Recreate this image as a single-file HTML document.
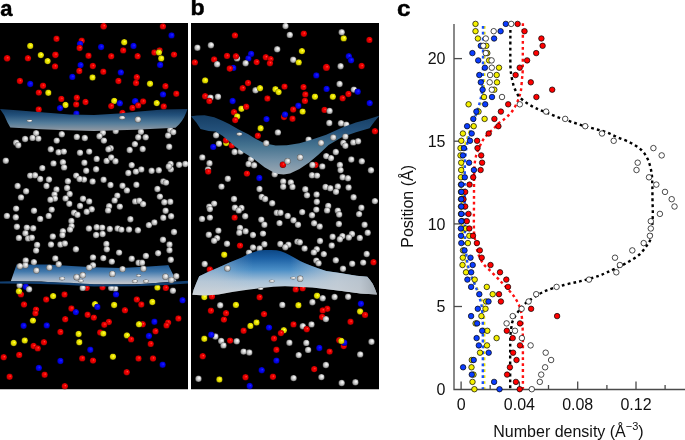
<!DOCTYPE html>
<html><head><meta charset="utf-8"><style>
html,body{margin:0;padding:0;background:#fff;}
body{width:685px;height:440px;overflow:hidden;}
svg{display:block;}
text{font-family:"Liberation Sans",Arial,Helvetica,sans-serif;}
</style></head><body>
<svg width="685" height="440" viewBox="0 0 685 440">
<defs>
<radialGradient id="gr" cx="0.5" cy="0.5" r="0.5" fx="0.62" fy="0.38"><stop offset="0" stop-color="#ff5040"/><stop offset="0.35" stop-color="#f80000"/><stop offset="0.8" stop-color="#d00000"/><stop offset="1" stop-color="#700000"/></radialGradient>
<radialGradient id="gy" cx="0.5" cy="0.5" r="0.5" fx="0.62" fy="0.38"><stop offset="0" stop-color="#ffff80"/><stop offset="0.35" stop-color="#f6f000"/><stop offset="0.8" stop-color="#d2cc00"/><stop offset="1" stop-color="#6a6600"/></radialGradient>
<radialGradient id="gb" cx="0.5" cy="0.5" r="0.5" fx="0.62" fy="0.38"><stop offset="0" stop-color="#2a2aff"/><stop offset="0.35" stop-color="#0a0af8"/><stop offset="0.8" stop-color="#0000d4"/><stop offset="1" stop-color="#000070"/></radialGradient>
<radialGradient id="gw" cx="0.5" cy="0.5" r="0.5" fx="0.65" fy="0.35"><stop offset="0" stop-color="#ffffff"/><stop offset="0.3" stop-color="#e8e8e8"/><stop offset="0.75" stop-color="#b0b0b0"/><stop offset="1" stop-color="#606060"/></radialGradient>
<linearGradient id="sa1" x1="0" y1="108" x2="0" y2="131" gradientUnits="userSpaceOnUse"><stop offset="0" stop-color="#10345a"/><stop offset="0.3" stop-color="#22507a"/><stop offset="0.65" stop-color="#537c9a"/><stop offset="1" stop-color="#959ba3"/></linearGradient>
<linearGradient id="sa2" x1="0" y1="264" x2="0" y2="283" gradientUnits="userSpaceOnUse"><stop offset="0" stop-color="#184f88"/><stop offset="0.4" stop-color="#4279ac"/><stop offset="0.75" stop-color="#90aac6"/><stop offset="1" stop-color="#bcc2ca"/></linearGradient>
<linearGradient id="sb1" x1="0" y1="116" x2="0" y2="175" gradientUnits="userSpaceOnUse"><stop offset="0" stop-color="#163f66"/><stop offset="0.25" stop-color="#24517a"/><stop offset="0.5" stop-color="#44728f"/><stop offset="0.75" stop-color="#7290a6"/><stop offset="1" stop-color="#9eaab4"/></linearGradient>
<linearGradient id="sb2" x1="0" y1="249" x2="0" y2="295" gradientUnits="userSpaceOnUse"><stop offset="0" stop-color="#0a4482"/><stop offset="0.2" stop-color="#1c60a4"/><stop offset="0.45" stop-color="#4a8ec6"/><stop offset="0.7" stop-color="#a8c2d8"/><stop offset="1" stop-color="#d6d9dc"/></linearGradient>
<linearGradient id="sb2h" x1="191" y1="0" x2="379" y2="0" gradientUnits="userSpaceOnUse"><stop offset="0" stop-color="#c4ccd4" stop-opacity="0.55"/><stop offset="0.14" stop-color="#c4ccd4" stop-opacity="0.45"/><stop offset="0.25" stop-color="#c4ccd4" stop-opacity="0.15"/><stop offset="0.33" stop-color="#c4ccd4" stop-opacity="0"/><stop offset="0.53" stop-color="#c4ccd4" stop-opacity="0"/><stop offset="0.63" stop-color="#c4ccd4" stop-opacity="0.35"/><stop offset="0.78" stop-color="#c4ccd4" stop-opacity="0.8"/><stop offset="0.9" stop-color="#bcc4cc" stop-opacity="0.85"/><stop offset="1" stop-color="#9aa2aa" stop-opacity="0.9"/></linearGradient>
<clipPath id="cpa"><rect x="0" y="23" width="188" height="366.5"/></clipPath>
<clipPath id="cpb"><rect x="191" y="23" width="188" height="366.5"/></clipPath>
</defs>
<rect x="0" y="0" width="685" height="440" fill="#fff"/>

<text transform="translate(0.3,16.1) scale(1.0,1)" font-size="22" font-weight="bold" fill="#000" stroke="#000" stroke-width="0.45">a</text>
<text transform="translate(190.4,15.1) scale(1.05,1)" font-size="22" font-weight="bold" fill="#000" stroke="#000" stroke-width="0.45">b</text>
<text transform="translate(397,16.0) scale(1.1,1)" font-size="22" font-weight="bold" fill="#000" stroke="#000" stroke-width="0.45">c</text>
<g clip-path="url(#cpa)">
<rect x="0" y="23" width="188" height="366.5" fill="#000"/>
<circle cx="56.5" cy="38.8" r="3.2" fill="url(#gr)"/>
<circle cx="81.7" cy="40.8" r="3.2" fill="url(#gr)"/>
<circle cx="80" cy="43.9" r="3.2" fill="url(#gb)"/>
<circle cx="79.6" cy="48" r="3.2" fill="url(#gr)"/>
<circle cx="30.2" cy="45.9" r="3.2" fill="url(#gy)"/>
<circle cx="7.1" cy="58.3" r="3.4" fill="url(#gr)"/>
<circle cx="27.9" cy="58.3" r="3.2" fill="url(#gr)"/>
<circle cx="40.8" cy="55.1" r="3.2" fill="url(#gy)"/>
<circle cx="55.4" cy="54.8" r="3.4" fill="url(#gr)"/>
<circle cx="47.6" cy="61.1" r="3.2" fill="url(#gy)"/>
<circle cx="55" cy="66.4" r="3.2" fill="url(#gr)"/>
<circle cx="88.5" cy="55.7" r="3.2" fill="url(#gr)"/>
<circle cx="80.6" cy="65.1" r="3.2" fill="url(#gb)"/>
<circle cx="92.8" cy="66" r="3.2" fill="url(#gr)"/>
<circle cx="79.3" cy="71" r="3.2" fill="url(#gr)"/>
<circle cx="72.3" cy="76.9" r="3.2" fill="url(#gb)"/>
<circle cx="92.5" cy="77.5" r="3.2" fill="url(#gy)"/>
<circle cx="19.9" cy="81" r="3.2" fill="url(#gr)"/>
<circle cx="30.2" cy="84" r="3.2" fill="url(#gb)"/>
<circle cx="103.6" cy="26.3" r="3.4" fill="url(#gr)"/>
<circle cx="162.9" cy="26.4" r="3.2" fill="url(#gr)"/>
<circle cx="171.5" cy="35.4" r="3.2" fill="url(#gb)"/>
<circle cx="124.2" cy="42.2" r="3.2" fill="url(#gy)"/>
<circle cx="101.1" cy="47" r="3.2" fill="url(#gb)"/>
<circle cx="133.5" cy="45.9" r="3.2" fill="url(#gb)"/>
<circle cx="123.2" cy="50.4" r="3.2" fill="url(#gr)"/>
<circle cx="111.2" cy="56.3" r="3.2" fill="url(#gr)"/>
<circle cx="137.6" cy="56.2" r="3.2" fill="url(#gr)"/>
<circle cx="154.4" cy="52.5" r="3.2" fill="url(#gr)"/>
<circle cx="159.6" cy="50.4" r="3.2" fill="url(#gr)"/>
<circle cx="158.9" cy="52.5" r="3.2" fill="url(#gy)"/>
<circle cx="161.2" cy="58.4" r="3.2" fill="url(#gy)"/>
<circle cx="174" cy="54.6" r="3.2" fill="url(#gr)"/>
<circle cx="160.1" cy="64.9" r="3.2" fill="url(#gb)"/>
<circle cx="103.3" cy="71.7" r="3.2" fill="url(#gr)"/>
<circle cx="120.8" cy="72.4" r="3.2" fill="url(#gb)"/>
<circle cx="136.8" cy="77.2" r="3.2" fill="url(#gr)"/>
<circle cx="118.4" cy="81" r="3.2" fill="url(#gr)"/>
<circle cx="136" cy="83" r="3.2" fill="url(#gr)"/>
<circle cx="150" cy="83.8" r="3.2" fill="url(#gy)"/>
<circle cx="43" cy="85.8" r="3.2" fill="url(#gr)"/>
<circle cx="38.8" cy="92.6" r="3.2" fill="url(#gr)"/>
<circle cx="48.3" cy="92.8" r="3.2" fill="url(#gy)"/>
<circle cx="61.3" cy="98.9" r="3.2" fill="url(#gr)"/>
<circle cx="65.5" cy="105" r="3.2" fill="url(#gy)"/>
<circle cx="60" cy="108.1" r="3.2" fill="url(#gb)"/>
<circle cx="76.8" cy="97.8" r="3.2" fill="url(#gr)"/>
<circle cx="76.2" cy="104.4" r="3.2" fill="url(#gr)"/>
<circle cx="85.5" cy="102" r="3.2" fill="url(#gr)"/>
<circle cx="76.4" cy="113.6" r="3.2" fill="url(#gb)"/>
<circle cx="38.7" cy="109.5" r="3.2" fill="url(#gr)"/>
<circle cx="165.4" cy="86.2" r="3.2" fill="url(#gr)"/>
<circle cx="163" cy="94.4" r="3.2" fill="url(#gb)"/>
<circle cx="176.3" cy="93.7" r="3.2" fill="url(#gr)"/>
<circle cx="114.2" cy="100.9" r="3.2" fill="url(#gy)"/>
<circle cx="119.8" cy="103.3" r="3.2" fill="url(#gb)"/>
<circle cx="111.2" cy="106.1" r="3.2" fill="url(#gr)"/>
<circle cx="135.2" cy="101.3" r="3.4" fill="url(#gb)"/>
<circle cx="143.1" cy="101.5" r="3.2" fill="url(#gr)"/>
<circle cx="138.2" cy="105.4" r="3.2" fill="url(#gr)"/>
<circle cx="132.4" cy="107.9" r="3.2" fill="url(#gr)"/>
<circle cx="156.7" cy="103.1" r="3.2" fill="url(#gy)"/>
<circle cx="163.7" cy="106.5" r="3.2" fill="url(#gr)"/>
<circle cx="122.4" cy="113" r="3.2" fill="url(#gr)"/>
<circle cx="36.1" cy="133.2" r="3.2" fill="url(#gw)"/>
<circle cx="25.1" cy="139" r="3.2" fill="url(#gw)"/>
<circle cx="32.5" cy="137.9" r="3.2" fill="url(#gw)"/>
<circle cx="38.4" cy="138.6" r="3.2" fill="url(#gw)"/>
<circle cx="16.2" cy="142.8" r="3.2" fill="url(#gw)"/>
<circle cx="18.3" cy="145.2" r="3.2" fill="url(#gw)"/>
<circle cx="61.8" cy="134.2" r="3.2" fill="url(#gw)"/>
<circle cx="56.7" cy="140.6" r="3.2" fill="url(#gw)"/>
<circle cx="76.8" cy="136.9" r="3.2" fill="url(#gw)"/>
<circle cx="84.8" cy="138" r="3.2" fill="url(#gw)"/>
<circle cx="50.8" cy="149.3" r="3.2" fill="url(#gw)"/>
<circle cx="58.6" cy="152.3" r="3.2" fill="url(#gw)"/>
<circle cx="63.8" cy="151.6" r="3.2" fill="url(#gw)"/>
<circle cx="80" cy="152.7" r="3.2" fill="url(#gw)"/>
<circle cx="89.2" cy="151.6" r="3.2" fill="url(#gw)"/>
<circle cx="5.8" cy="160.7" r="3.2" fill="url(#gw)"/>
<circle cx="53.5" cy="163.4" r="3.2" fill="url(#gw)"/>
<circle cx="62.9" cy="162.3" r="3.2" fill="url(#gw)"/>
<circle cx="64.1" cy="167.4" r="3.2" fill="url(#gw)"/>
<circle cx="84.4" cy="162.7" r="3.2" fill="url(#gw)"/>
<circle cx="42.3" cy="168.1" r="3.2" fill="url(#gw)"/>
<circle cx="86.2" cy="170.8" r="3.2" fill="url(#gw)"/>
<circle cx="30.2" cy="175.6" r="3.2" fill="url(#gw)"/>
<circle cx="35" cy="175.3" r="3.2" fill="url(#gw)"/>
<circle cx="40.2" cy="179" r="3.2" fill="url(#gw)"/>
<circle cx="49" cy="179.5" r="3.2" fill="url(#gw)"/>
<circle cx="76.2" cy="175.6" r="3.2" fill="url(#gw)"/>
<circle cx="84" cy="179.5" r="3.2" fill="url(#gw)"/>
<circle cx="79.6" cy="179" r="3.2" fill="url(#gw)"/>
<circle cx="67.9" cy="181.2" r="3.2" fill="url(#gw)"/>
<circle cx="17.6" cy="186" r="3.2" fill="url(#gw)"/>
<circle cx="46.5" cy="186" r="3.2" fill="url(#gw)"/>
<circle cx="92.6" cy="181.5" r="3.2" fill="url(#gw)"/>
<circle cx="67.1" cy="188" r="3.2" fill="url(#gw)"/>
<circle cx="102.9" cy="132.8" r="3.2" fill="url(#gw)"/>
<circle cx="99.5" cy="136.2" r="3.2" fill="url(#gw)"/>
<circle cx="103.9" cy="140.6" r="3.2" fill="url(#gw)"/>
<circle cx="115.7" cy="131" r="3.2" fill="url(#gw)"/>
<circle cx="140.9" cy="131.8" r="3.2" fill="url(#gw)"/>
<circle cx="138.2" cy="137.2" r="3.2" fill="url(#gw)"/>
<circle cx="145.7" cy="137.3" r="3.2" fill="url(#gw)"/>
<circle cx="168.1" cy="135.5" r="3.2" fill="url(#gw)"/>
<circle cx="170.2" cy="130.1" r="3.2" fill="url(#gw)"/>
<circle cx="173.3" cy="132.1" r="3.2" fill="url(#gw)"/>
<circle cx="134.9" cy="144.1" r="3.2" fill="url(#gw)"/>
<circle cx="110.7" cy="148.3" r="3.2" fill="url(#gw)"/>
<circle cx="108.4" cy="149.3" r="3.2" fill="url(#gw)"/>
<circle cx="129.7" cy="150" r="3.2" fill="url(#gw)"/>
<circle cx="142.7" cy="149" r="3.2" fill="url(#gw)"/>
<circle cx="169.2" cy="146.8" r="3.2" fill="url(#gw)"/>
<circle cx="96.7" cy="158.9" r="3.2" fill="url(#gw)"/>
<circle cx="106.6" cy="160.9" r="3.2" fill="url(#gw)"/>
<circle cx="111.2" cy="157.5" r="3.2" fill="url(#gw)"/>
<circle cx="115.5" cy="161.2" r="3.2" fill="url(#gw)"/>
<circle cx="131.7" cy="165.1" r="3.2" fill="url(#gw)"/>
<circle cx="96.1" cy="169.2" r="3.2" fill="url(#gw)"/>
<circle cx="128.3" cy="173" r="3.2" fill="url(#gw)"/>
<circle cx="135.9" cy="171.6" r="3.2" fill="url(#gw)"/>
<circle cx="141.3" cy="169.4" r="3.2" fill="url(#gw)"/>
<circle cx="151.6" cy="170.8" r="3.2" fill="url(#gw)"/>
<circle cx="158.8" cy="170.3" r="3.2" fill="url(#gw)"/>
<circle cx="170.6" cy="164" r="3.2" fill="url(#gw)"/>
<circle cx="170.8" cy="169.2" r="3.2" fill="url(#gw)"/>
<circle cx="168.8" cy="166.4" r="3.2" fill="url(#gw)"/>
<circle cx="179.1" cy="164.8" r="3.2" fill="url(#gw)"/>
<circle cx="185.3" cy="164" r="3.2" fill="url(#gw)"/>
<circle cx="103.6" cy="179.7" r="3.2" fill="url(#gw)"/>
<circle cx="110.5" cy="185" r="3.2" fill="url(#gw)"/>
<circle cx="122.5" cy="185.8" r="3.2" fill="url(#gw)"/>
<circle cx="136.4" cy="184.8" r="3.2" fill="url(#gw)"/>
<circle cx="163.3" cy="181.5" r="3.2" fill="url(#gw)"/>
<circle cx="166" cy="182.6" r="3.2" fill="url(#gw)"/>
<circle cx="26.1" cy="191.2" r="3.2" fill="url(#gw)"/>
<circle cx="21" cy="197.4" r="3.2" fill="url(#gw)"/>
<circle cx="56.5" cy="189.4" r="3.2" fill="url(#gw)"/>
<circle cx="54.5" cy="194.5" r="3.2" fill="url(#gw)"/>
<circle cx="54.9" cy="198.6" r="3.2" fill="url(#gw)"/>
<circle cx="50.4" cy="199.7" r="3.2" fill="url(#gw)"/>
<circle cx="69.7" cy="194" r="3.2" fill="url(#gw)"/>
<circle cx="65.6" cy="198.4" r="3.2" fill="url(#gw)"/>
<circle cx="69.3" cy="203.8" r="3.2" fill="url(#gw)"/>
<circle cx="83" cy="198.8" r="3.2" fill="url(#gw)"/>
<circle cx="89.2" cy="201.4" r="3.2" fill="url(#gw)"/>
<circle cx="80" cy="205.9" r="3.2" fill="url(#gw)"/>
<circle cx="91.7" cy="209.3" r="3.2" fill="url(#gw)"/>
<circle cx="86.7" cy="211.8" r="3.2" fill="url(#gw)"/>
<circle cx="16.1" cy="208.6" r="3.2" fill="url(#gw)"/>
<circle cx="34" cy="210.7" r="3.2" fill="url(#gw)"/>
<circle cx="51.7" cy="209.6" r="3.2" fill="url(#gw)"/>
<circle cx="6.9" cy="215.9" r="3.2" fill="url(#gw)"/>
<circle cx="15.8" cy="217.3" r="3.2" fill="url(#gw)"/>
<circle cx="40.2" cy="218.9" r="3.2" fill="url(#gw)"/>
<circle cx="48.7" cy="215.9" r="3.2" fill="url(#gw)"/>
<circle cx="74.1" cy="212.8" r="3.2" fill="url(#gw)"/>
<circle cx="77.5" cy="214.8" r="3.2" fill="url(#gw)"/>
<circle cx="71.4" cy="221" r="3.2" fill="url(#gw)"/>
<circle cx="71.6" cy="226.1" r="3.2" fill="url(#gw)"/>
<circle cx="70" cy="229.6" r="3.2" fill="url(#gw)"/>
<circle cx="16.9" cy="226.8" r="3.2" fill="url(#gw)"/>
<circle cx="26.8" cy="227.6" r="3.2" fill="url(#gw)"/>
<circle cx="33.2" cy="228.3" r="3.2" fill="url(#gw)"/>
<circle cx="25.4" cy="233.3" r="3.2" fill="url(#gw)"/>
<circle cx="62.9" cy="231.3" r="3.2" fill="url(#gw)"/>
<circle cx="62.4" cy="235.1" r="3.2" fill="url(#gw)"/>
<circle cx="88.9" cy="228.5" r="3.2" fill="url(#gw)"/>
<circle cx="18.9" cy="237.9" r="3.2" fill="url(#gw)"/>
<circle cx="28.1" cy="238.4" r="3.2" fill="url(#gw)"/>
<circle cx="31.8" cy="237.7" r="3.2" fill="url(#gw)"/>
<circle cx="52.8" cy="236.5" r="3.2" fill="url(#gw)"/>
<circle cx="37.1" cy="244.9" r="3.2" fill="url(#gw)"/>
<circle cx="51" cy="244.5" r="3.2" fill="url(#gw)"/>
<circle cx="60.4" cy="244.5" r="3.2" fill="url(#gw)"/>
<circle cx="64.8" cy="243.5" r="3.2" fill="url(#gw)"/>
<circle cx="126.9" cy="190.4" r="3.2" fill="url(#gw)"/>
<circle cx="117.3" cy="195.6" r="3.2" fill="url(#gw)"/>
<circle cx="114.6" cy="200.4" r="3.2" fill="url(#gw)"/>
<circle cx="109.1" cy="206.3" r="3.2" fill="url(#gw)"/>
<circle cx="108.1" cy="210.4" r="3.2" fill="url(#gw)"/>
<circle cx="119.8" cy="206.6" r="3.2" fill="url(#gw)"/>
<circle cx="135.2" cy="201.4" r="3.2" fill="url(#gw)"/>
<circle cx="139.3" cy="200.8" r="3.2" fill="url(#gw)"/>
<circle cx="143.1" cy="204.1" r="3.2" fill="url(#gw)"/>
<circle cx="157.4" cy="189" r="3.2" fill="url(#gw)"/>
<circle cx="159.9" cy="196.6" r="3.2" fill="url(#gw)"/>
<circle cx="164.3" cy="202.2" r="3.2" fill="url(#gw)"/>
<circle cx="170.3" cy="201.8" r="3.2" fill="url(#gw)"/>
<circle cx="165.6" cy="210.7" r="3.2" fill="url(#gw)"/>
<circle cx="163.3" cy="217.8" r="3.2" fill="url(#gw)"/>
<circle cx="171.1" cy="216.2" r="3.2" fill="url(#gw)"/>
<circle cx="130.4" cy="219.2" r="3.2" fill="url(#gw)"/>
<circle cx="148.9" cy="225.1" r="3.2" fill="url(#gw)"/>
<circle cx="154.4" cy="222.4" r="3.2" fill="url(#gw)"/>
<circle cx="96.7" cy="227.2" r="3.2" fill="url(#gw)"/>
<circle cx="102.2" cy="227.6" r="3.2" fill="url(#gw)"/>
<circle cx="109.8" cy="229" r="3.2" fill="url(#gw)"/>
<circle cx="117.6" cy="228.5" r="3.2" fill="url(#gw)"/>
<circle cx="121.4" cy="229.6" r="3.2" fill="url(#gw)"/>
<circle cx="129" cy="229.5" r="3.2" fill="url(#gw)"/>
<circle cx="137.9" cy="230.2" r="3.2" fill="url(#gw)"/>
<circle cx="96.1" cy="235" r="3.2" fill="url(#gw)"/>
<circle cx="102.6" cy="234" r="3.2" fill="url(#gw)"/>
<circle cx="174" cy="232" r="3.2" fill="url(#gw)"/>
<circle cx="106.4" cy="244" r="3.2" fill="url(#gw)"/>
<circle cx="163" cy="239.8" r="3.2" fill="url(#gw)"/>
<circle cx="169.5" cy="244.5" r="3.2" fill="url(#gw)"/>
<circle cx="36.1" cy="250.6" r="3.2" fill="url(#gw)"/>
<circle cx="75.9" cy="249.2" r="3.2" fill="url(#gw)"/>
<circle cx="93" cy="257.4" r="3.2" fill="url(#gw)"/>
<circle cx="106.8" cy="249.2" r="3.2" fill="url(#gw)"/>
<circle cx="119.1" cy="252.6" r="3.2" fill="url(#gw)"/>
<circle cx="145.9" cy="255.9" r="3.2" fill="url(#gw)"/>
<circle cx="158.1" cy="253.2" r="3.2" fill="url(#gw)"/>
<circle cx="169.5" cy="250.2" r="3.2" fill="url(#gw)"/>
<circle cx="19.6" cy="285.2" r="3.2" fill="url(#gw)"/>
<circle cx="172.9" cy="290.7" r="3.2" fill="url(#gw)"/>
<circle cx="115.3" cy="288.6" r="3.2" fill="url(#gw)"/>
<circle cx="111.2" cy="287.9" r="3.2" fill="url(#gw)"/>
<circle cx="25.8" cy="286.8" r="3.2" fill="url(#gb)"/>
<circle cx="29.1" cy="289.3" r="3.2" fill="url(#gw)"/>
<circle cx="20.9" cy="294.4" r="3.2" fill="url(#gr)"/>
<circle cx="18.9" cy="291.3" r="3.2" fill="url(#gy)"/>
<circle cx="46.2" cy="299.5" r="3.2" fill="url(#gr)"/>
<circle cx="53.1" cy="296.1" r="3.2" fill="url(#gy)"/>
<circle cx="64.5" cy="294.5" r="3.2" fill="url(#gr)"/>
<circle cx="86.7" cy="287.9" r="3.2" fill="url(#gr)"/>
<circle cx="82.7" cy="287.9" r="3.2" fill="url(#gw)"/>
<circle cx="24" cy="304.5" r="3.2" fill="url(#gr)"/>
<circle cx="102.5" cy="287.2" r="3.2" fill="url(#gr)"/>
<circle cx="116" cy="294.4" r="3.2" fill="url(#gb)"/>
<circle cx="157.4" cy="287.6" r="3.2" fill="url(#gy)"/>
<circle cx="165.8" cy="287.9" r="3.2" fill="url(#gr)"/>
<circle cx="136.8" cy="299.5" r="3.2" fill="url(#gr)"/>
<circle cx="152.3" cy="302" r="3.2" fill="url(#gy)"/>
<circle cx="182.5" cy="300.3" r="3.2" fill="url(#gb)"/>
<circle cx="141.3" cy="304.5" r="3.2" fill="url(#gr)"/>
<circle cx="114.1" cy="305" r="3.2" fill="url(#gy)"/>
<circle cx="95" cy="304.2" r="3.2" fill="url(#gy)"/>
<circle cx="36" cy="309.6" r="3.2" fill="url(#gr)"/>
<circle cx="35.4" cy="313.3" r="3.2" fill="url(#gr)"/>
<circle cx="71.4" cy="308.5" r="3.2" fill="url(#gr)"/>
<circle cx="75.8" cy="312.1" r="3.2" fill="url(#gb)"/>
<circle cx="87.6" cy="314.8" r="3.2" fill="url(#gr)"/>
<circle cx="93.8" cy="317.6" r="3.2" fill="url(#gr)"/>
<circle cx="65.2" cy="319.2" r="3.2" fill="url(#gr)"/>
<circle cx="32.9" cy="320.6" r="3.2" fill="url(#gy)"/>
<circle cx="23.6" cy="325.8" r="3.2" fill="url(#gb)"/>
<circle cx="46.7" cy="325.4" r="3.2" fill="url(#gb)"/>
<circle cx="60.4" cy="332" r="3.2" fill="url(#gr)"/>
<circle cx="78.6" cy="334" r="3.2" fill="url(#gy)"/>
<circle cx="79.3" cy="342.3" r="3.2" fill="url(#gy)"/>
<circle cx="24.7" cy="340.5" r="3.2" fill="url(#gy)"/>
<circle cx="13.7" cy="343" r="3.2" fill="url(#gy)"/>
<circle cx="43.9" cy="342.3" r="3.2" fill="url(#gr)"/>
<circle cx="33.6" cy="346" r="3.2" fill="url(#gr)"/>
<circle cx="37.7" cy="348.4" r="3.2" fill="url(#gr)"/>
<circle cx="90.3" cy="349.7" r="3.2" fill="url(#gb)"/>
<circle cx="19.2" cy="354.9" r="3.2" fill="url(#gr)"/>
<circle cx="3.7" cy="357.3" r="3.2" fill="url(#gr)"/>
<circle cx="82.2" cy="358.4" r="3.2" fill="url(#gr)"/>
<circle cx="60.4" cy="361" r="3.2" fill="url(#gb)"/>
<circle cx="97.4" cy="306.9" r="3.2" fill="url(#gb)"/>
<circle cx="124.9" cy="310.3" r="3.2" fill="url(#gr)"/>
<circle cx="108.8" cy="322" r="3.2" fill="url(#gr)"/>
<circle cx="104.3" cy="324.7" r="3.2" fill="url(#gr)"/>
<circle cx="142.7" cy="324.3" r="3.2" fill="url(#gr)"/>
<circle cx="139" cy="324.3" r="3.2" fill="url(#gy)"/>
<circle cx="154.4" cy="321.7" r="3.2" fill="url(#gb)"/>
<circle cx="168.1" cy="322.6" r="3.2" fill="url(#gr)"/>
<circle cx="166.5" cy="325.4" r="3.2" fill="url(#gr)"/>
<circle cx="178.4" cy="318.5" r="3.2" fill="url(#gr)"/>
<circle cx="100.2" cy="332.5" r="3.2" fill="url(#gr)"/>
<circle cx="103.3" cy="333.6" r="3.2" fill="url(#gy)"/>
<circle cx="126.9" cy="335.4" r="3.2" fill="url(#gy)"/>
<circle cx="131.1" cy="339.4" r="3.2" fill="url(#gr)"/>
<circle cx="148.9" cy="336" r="3.2" fill="url(#gb)"/>
<circle cx="155.5" cy="331.3" r="3.2" fill="url(#gr)"/>
<circle cx="150.7" cy="343.9" r="3.2" fill="url(#gr)"/>
<circle cx="112.9" cy="356.7" r="3.2" fill="url(#gy)"/>
<circle cx="138.5" cy="358.5" r="3.2" fill="url(#gr)"/>
<circle cx="153" cy="358.5" r="3.2" fill="url(#gr)"/>
<circle cx="93" cy="360.6" r="3.2" fill="url(#gr)"/>
<circle cx="38.8" cy="367.9" r="3.2" fill="url(#gb)"/>
<circle cx="44.6" cy="374.7" r="3.2" fill="url(#gr)"/>
<circle cx="9.6" cy="376.8" r="3.2" fill="url(#gr)"/>
<circle cx="64.8" cy="386.2" r="3.2" fill="url(#gr)"/>
<circle cx="162.6" cy="364.7" r="3.2" fill="url(#gb)"/>
<circle cx="126.7" cy="372.2" r="3.2" fill="url(#gr)"/>
<path d="M0,109 L20,110.6 L41,112.3 L70,114.4 L94,115 L118.7,113.4 L139.3,111.4 L162.6,109.6 L187.5,108.9 L186,113 L184,117.5 L181.8,121 L179,124.6 L175.5,127.7 L155,128.8 L135.2,129.7 L94,131 L60,130 L41.2,129.2 L10.3,127.6 L7.5,122.5 L4.1,115 L0,109 Z" fill="url(#sa1)"/>
<path d="M16.6,264.4 L48,264.5 L71.4,266 L94,267.3 L121.4,268 L148.9,266.6 L166.7,265.3 L168.3,264.9 L176.5,281.2 L150,283.5 L135.2,284.2 L94,284.6 L60,283 L41.2,281.5 L10.8,281.2 Z" fill="url(#sa2)"/>
<path d="M0,281.4 L11,281.3 L41.2,281.7 L70,282.7 L94,284.3 L135,284.4 L176.5,281.4 L188,280.8 L188,283.4 L160,285.3 L135,286.3 L94,286.4 L60,284.6 L30,283.8 L0,283.6 Z" fill="#123f70"/>
<ellipse cx="29.5" cy="120.8" rx="3" ry="1.3" fill="url(#gw)"/>
<ellipse cx="122.1" cy="117.7" rx="3.2" ry="2" fill="url(#gw)"/>
<ellipse cx="62" cy="278.6" rx="3" ry="1.8" fill="url(#gw)"/>
<ellipse cx="80.7" cy="280.8" rx="3" ry="1.6" fill="url(#gw)"/>
<ellipse cx="134.8" cy="281.3" rx="3" ry="1.8" fill="url(#gw)"/>
<ellipse cx="145.9" cy="281.3" rx="3" ry="1.8" fill="url(#gw)"/>
<ellipse cx="138.6" cy="275.6" rx="2.6" ry="1.3" fill="url(#gw)"/>
<circle cx="137.9" cy="119.5" r="3.2" fill="url(#gw)"/>
<circle cx="55.3" cy="258.4" r="3.2" fill="url(#gw)"/>
<circle cx="103.3" cy="258.1" r="3.2" fill="url(#gw)"/>
<circle cx="111.8" cy="261.6" r="3.2" fill="url(#gw)"/>
<circle cx="131.7" cy="258.7" r="3.2" fill="url(#gw)"/>
<circle cx="170.8" cy="259.8" r="3.2" fill="url(#gw)"/>
<circle cx="138.6" cy="262.8" r="3.2" fill="url(#gw)"/>
<circle cx="142" cy="262.8" r="3.2" fill="url(#gw)"/>
<circle cx="25.7" cy="260.5" r="3.2" fill="url(#gw)"/>
<circle cx="33.9" cy="262.1" r="3.2" fill="url(#gw)"/>
<circle cx="58.7" cy="264.3" r="3.2" fill="url(#gw)"/>
<circle cx="25.4" cy="265.3" r="3.2" fill="url(#gw)"/>
<circle cx="19.9" cy="266.2" r="3.2" fill="url(#gw)"/>
<circle cx="49.4" cy="267.6" r="3.2" fill="url(#gw)"/>
<circle cx="36.4" cy="270.5" r="3.2" fill="url(#gw)"/>
<circle cx="93" cy="265.3" r="3.2" fill="url(#gw)"/>
<circle cx="89.2" cy="267.6" r="3.2" fill="url(#gw)"/>
<circle cx="76.6" cy="277.2" r="3.2" fill="url(#gw)"/>
<circle cx="82.7" cy="275.3" r="3.2" fill="url(#gw)"/>
<circle cx="122.5" cy="269.1" r="3.2" fill="url(#gw)"/>
<circle cx="143.4" cy="268.7" r="3.2" fill="url(#gw)"/>
<circle cx="112.3" cy="273.9" r="3.2" fill="url(#gw)"/>
<circle cx="165.4" cy="276.7" r="3.2" fill="url(#gw)"/>
<circle cx="176.3" cy="276.2" r="3.2" fill="url(#gw)"/>
<circle cx="171.3" cy="280.1" r="3.2" fill="url(#gw)"/>
</g>
<g clip-path="url(#cpb)">
<rect x="191" y="23" width="188" height="366.5" fill="#000"/>
<circle cx="234.9" cy="35.4" r="3.2" fill="url(#gr)"/>
<circle cx="197.4" cy="47.7" r="3.2" fill="url(#gw)"/>
<circle cx="210.9" cy="45.2" r="3.2" fill="url(#gw)"/>
<circle cx="277.2" cy="49.3" r="3.2" fill="url(#gw)"/>
<circle cx="285.5" cy="26" r="3.2" fill="url(#gw)"/>
<circle cx="227" cy="55.9" r="3.2" fill="url(#gr)"/>
<circle cx="237" cy="58.4" r="3.2" fill="url(#gw)"/>
<circle cx="235.9" cy="56.3" r="3.2" fill="url(#gr)"/>
<circle cx="251.1" cy="53.9" r="3.2" fill="url(#gb)"/>
<circle cx="248.4" cy="58.4" r="3.2" fill="url(#gb)"/>
<circle cx="245.6" cy="63.2" r="3.2" fill="url(#gw)"/>
<circle cx="214.1" cy="59.4" r="3.2" fill="url(#gr)"/>
<circle cx="217.1" cy="64.2" r="3.2" fill="url(#gw)"/>
<circle cx="194.8" cy="62.4" r="3.2" fill="url(#gr)"/>
<circle cx="256.6" cy="62.1" r="3.2" fill="url(#gr)"/>
<circle cx="265.8" cy="57.3" r="3.2" fill="url(#gr)"/>
<circle cx="270.6" cy="59.1" r="3.2" fill="url(#gr)"/>
<circle cx="269.9" cy="63.2" r="3.2" fill="url(#gr)"/>
<circle cx="233.3" cy="67.9" r="3.2" fill="url(#gb)"/>
<circle cx="229.8" cy="68.6" r="3.3" fill="url(#gr)"/>
<circle cx="205.1" cy="80.4" r="3.2" fill="url(#gy)"/>
<circle cx="248" cy="83" r="3.2" fill="url(#gr)"/>
<circle cx="289.8" cy="34.9" r="3.2" fill="url(#gw)"/>
<circle cx="303.8" cy="33.7" r="3.2" fill="url(#gr)"/>
<circle cx="341.7" cy="32.3" r="3.2" fill="url(#gw)"/>
<circle cx="343.7" cy="38.4" r="3.2" fill="url(#gy)"/>
<circle cx="369.4" cy="39.9" r="3.2" fill="url(#gr)"/>
<circle cx="301.9" cy="51.1" r="3.2" fill="url(#gy)"/>
<circle cx="293.2" cy="59.8" r="3.2" fill="url(#gw)"/>
<circle cx="298.7" cy="62.4" r="3.2" fill="url(#gy)"/>
<circle cx="348.8" cy="56.3" r="3.2" fill="url(#gb)"/>
<circle cx="351.1" cy="60.3" r="3.2" fill="url(#gb)"/>
<circle cx="326.4" cy="67.4" r="3.6" fill="url(#gr)"/>
<circle cx="340.6" cy="66.2" r="3.2" fill="url(#gw)"/>
<circle cx="361.6" cy="66" r="3.2" fill="url(#gr)"/>
<circle cx="316.3" cy="75.4" r="3.2" fill="url(#gb)"/>
<circle cx="339.6" cy="84" r="3.2" fill="url(#gw)"/>
<circle cx="242.7" cy="88.2" r="3.2" fill="url(#gr)"/>
<circle cx="255.5" cy="90.3" r="3.2" fill="url(#gw)"/>
<circle cx="260" cy="88.2" r="3.2" fill="url(#gy)"/>
<circle cx="275.4" cy="89.3" r="3.2" fill="url(#gy)"/>
<circle cx="278.6" cy="92.1" r="3.2" fill="url(#gy)"/>
<circle cx="284.5" cy="86.6" r="3.2" fill="url(#gr)"/>
<circle cx="205.1" cy="96.2" r="3.2" fill="url(#gr)"/>
<circle cx="210.5" cy="97.6" r="3.2" fill="url(#gw)"/>
<circle cx="209.3" cy="101" r="3.2" fill="url(#gr)"/>
<circle cx="218" cy="96.7" r="3.2" fill="url(#gw)"/>
<circle cx="232.6" cy="101" r="3.2" fill="url(#gb)"/>
<circle cx="267.4" cy="98.5" r="3.2" fill="url(#gr)"/>
<circle cx="241.4" cy="108.8" r="3.2" fill="url(#gy)"/>
<circle cx="246.2" cy="106.8" r="3.2" fill="url(#gr)"/>
<circle cx="234" cy="112.2" r="3.2" fill="url(#gr)"/>
<circle cx="237.2" cy="116.4" r="3.2" fill="url(#gy)"/>
<circle cx="235.2" cy="120.1" r="3.2" fill="url(#gr)"/>
<circle cx="266.5" cy="119.1" r="3.2" fill="url(#gb)"/>
<circle cx="284" cy="117" r="3.2" fill="url(#gr)"/>
<circle cx="285" cy="114.5" r="3.2" fill="url(#gb)"/>
<circle cx="260.6" cy="128.3" r="3.2" fill="url(#gy)"/>
<circle cx="277.9" cy="132.4" r="3.2" fill="url(#gw)"/>
<circle cx="257.8" cy="135.7" r="3.2" fill="url(#gr)"/>
<circle cx="216.1" cy="135.2" r="3.2" fill="url(#gw)"/>
<circle cx="303.5" cy="87.1" r="3.2" fill="url(#gr)"/>
<circle cx="305.3" cy="94.4" r="3.2" fill="url(#gr)"/>
<circle cx="304.9" cy="100.9" r="3.2" fill="url(#gr)"/>
<circle cx="314.9" cy="96.7" r="3.2" fill="url(#gy)"/>
<circle cx="326.6" cy="88.9" r="3.2" fill="url(#gb)"/>
<circle cx="332.8" cy="96.7" r="3.2" fill="url(#gy)"/>
<circle cx="353.9" cy="89.6" r="3.2" fill="url(#gw)"/>
<circle cx="357.7" cy="91.7" r="3.2" fill="url(#gb)"/>
<circle cx="348.4" cy="94" r="3.2" fill="url(#gr)"/>
<circle cx="342.6" cy="98.3" r="3.2" fill="url(#gr)"/>
<circle cx="369.7" cy="103.1" r="3.2" fill="url(#gb)"/>
<circle cx="298.3" cy="105.8" r="3.2" fill="url(#gb)"/>
<circle cx="293.2" cy="109.5" r="3.2" fill="url(#gr)"/>
<circle cx="302.6" cy="111.6" r="3.2" fill="url(#gy)"/>
<circle cx="292.5" cy="118.7" r="3.2" fill="url(#gr)"/>
<circle cx="324.5" cy="109.9" r="3.2" fill="url(#gr)"/>
<circle cx="329.6" cy="110.9" r="3.2" fill="url(#gw)"/>
<circle cx="329.3" cy="123" r="3.2" fill="url(#gw)"/>
<circle cx="341" cy="123.2" r="3.2" fill="url(#gw)"/>
<circle cx="308.6" cy="139.6" r="3.2" fill="url(#gw)"/>
<circle cx="346.3" cy="124.6" r="3.2" fill="url(#gw)"/>
<circle cx="374.9" cy="131.2" r="3.2" fill="url(#gr)"/>
<circle cx="343.3" cy="143" r="3.2" fill="url(#gw)"/>
<circle cx="345.4" cy="145.8" r="3.2" fill="url(#gw)"/>
<circle cx="353.3" cy="142.4" r="3.2" fill="url(#gw)"/>
<circle cx="358.1" cy="141.3" r="3.2" fill="url(#gw)"/>
<circle cx="335.8" cy="152" r="3.2" fill="url(#gw)"/>
<circle cx="326.2" cy="156.1" r="3.2" fill="url(#gw)"/>
<circle cx="331" cy="158.1" r="3.2" fill="url(#gw)"/>
<circle cx="351.3" cy="159.5" r="3.2" fill="url(#gw)"/>
<circle cx="361.8" cy="161.3" r="3.2" fill="url(#gw)"/>
<circle cx="315.5" cy="165" r="3.2" fill="url(#gr)"/>
<circle cx="312.4" cy="165" r="3.2" fill="url(#gw)"/>
<circle cx="322.3" cy="166.4" r="3.2" fill="url(#gw)"/>
<circle cx="339.9" cy="165" r="3.2" fill="url(#gw)"/>
<circle cx="340.6" cy="170.1" r="3.2" fill="url(#gw)"/>
<circle cx="371" cy="170.2" r="3.2" fill="url(#gw)"/>
<circle cx="312" cy="175.3" r="3.2" fill="url(#gw)"/>
<circle cx="317" cy="175.6" r="3.2" fill="url(#gw)"/>
<circle cx="342.6" cy="177.3" r="3.2" fill="url(#gw)"/>
<circle cx="347.9" cy="178.3" r="3.2" fill="url(#gw)"/>
<circle cx="290.8" cy="182.4" r="3.2" fill="url(#gw)"/>
<circle cx="292.5" cy="186.9" r="3.2" fill="url(#gw)"/>
<circle cx="325.5" cy="187" r="3.2" fill="url(#gw)"/>
<circle cx="330.3" cy="188.3" r="3.2" fill="url(#gw)"/>
<circle cx="337.8" cy="186.5" r="3.2" fill="url(#gw)"/>
<circle cx="348.6" cy="187.5" r="3.2" fill="url(#gw)"/>
<circle cx="305.3" cy="189.3" r="3.2" fill="url(#gw)"/>
<circle cx="226.2" cy="143" r="3.2" fill="url(#gy)"/>
<circle cx="226" cy="140.3" r="3.2" fill="url(#gr)"/>
<circle cx="218.9" cy="143.7" r="3.2" fill="url(#gw)"/>
<circle cx="213.2" cy="146.9" r="3.2" fill="url(#gb)"/>
<circle cx="231.8" cy="145.4" r="3.2" fill="url(#gr)"/>
<circle cx="234.6" cy="152" r="3.2" fill="url(#gw)"/>
<circle cx="240.7" cy="151.5" r="3.2" fill="url(#gw)"/>
<circle cx="202.3" cy="157.4" r="3.2" fill="url(#gw)"/>
<circle cx="209.5" cy="163.2" r="3.2" fill="url(#gw)"/>
<circle cx="251" cy="159.2" r="3.2" fill="url(#gw)"/>
<circle cx="248.6" cy="164" r="3.2" fill="url(#gw)"/>
<circle cx="254.1" cy="165.3" r="3.2" fill="url(#gw)"/>
<circle cx="208" cy="169.5" r="3.2" fill="url(#gw)"/>
<circle cx="208.2" cy="171.6" r="3.2" fill="url(#gr)"/>
<circle cx="246.9" cy="173.6" r="3.2" fill="url(#gr)"/>
<circle cx="259.3" cy="178" r="3.2" fill="url(#gb)"/>
<circle cx="227.8" cy="178.7" r="3.2" fill="url(#gw)"/>
<circle cx="274.7" cy="174.2" r="3.2" fill="url(#gw)"/>
<circle cx="221.5" cy="186.6" r="3.2" fill="url(#gw)"/>
<circle cx="259.5" cy="189" r="3.2" fill="url(#gw)"/>
<circle cx="283.2" cy="181.5" r="3.2" fill="url(#gw)"/>
<circle cx="283.2" cy="186.7" r="3.2" fill="url(#gw)"/>
<circle cx="234" cy="199" r="3.2" fill="url(#gw)"/>
<circle cx="261.7" cy="197" r="3.2" fill="url(#gw)"/>
<circle cx="265.1" cy="199" r="3.2" fill="url(#gw)"/>
<circle cx="272.2" cy="203.2" r="3.2" fill="url(#gw)"/>
<circle cx="214.1" cy="203.6" r="3.2" fill="url(#gw)"/>
<circle cx="209.3" cy="206.6" r="3.2" fill="url(#gw)"/>
<circle cx="209.9" cy="209.1" r="3.2" fill="url(#gw)"/>
<circle cx="234.9" cy="207.7" r="3.2" fill="url(#gw)"/>
<circle cx="241.5" cy="208" r="3.2" fill="url(#gw)"/>
<circle cx="238.8" cy="210.4" r="3.2" fill="url(#gw)"/>
<circle cx="245.2" cy="216.2" r="3.2" fill="url(#gw)"/>
<circle cx="276.8" cy="212.8" r="3.2" fill="url(#gw)"/>
<circle cx="280.5" cy="212.8" r="3.2" fill="url(#gw)"/>
<circle cx="234.6" cy="217.6" r="3.2" fill="url(#gr)"/>
<circle cx="202" cy="218.9" r="3.2" fill="url(#gw)"/>
<circle cx="209.9" cy="217.6" r="3.2" fill="url(#gw)"/>
<circle cx="261.3" cy="219.6" r="3.2" fill="url(#gw)"/>
<circle cx="264.4" cy="224.7" r="3.2" fill="url(#gw)"/>
<circle cx="279.5" cy="223.1" r="3.2" fill="url(#gw)"/>
<circle cx="240" cy="227.9" r="3.2" fill="url(#gw)"/>
<circle cx="239.3" cy="232.7" r="3.2" fill="url(#gw)"/>
<circle cx="245.6" cy="231.3" r="3.2" fill="url(#gw)"/>
<circle cx="218.4" cy="230.6" r="3.2" fill="url(#gw)"/>
<circle cx="208.8" cy="234.7" r="3.2" fill="url(#gw)"/>
<circle cx="253" cy="235" r="3.2" fill="url(#gw)"/>
<circle cx="263" cy="233.6" r="3.2" fill="url(#gw)"/>
<circle cx="217.1" cy="238.1" r="3.2" fill="url(#gw)"/>
<circle cx="214.1" cy="240.8" r="3.2" fill="url(#gw)"/>
<circle cx="227" cy="243.8" r="3.2" fill="url(#gw)"/>
<circle cx="264.4" cy="244.2" r="3.2" fill="url(#gw)"/>
<circle cx="280.3" cy="244" r="3.2" fill="url(#gw)"/>
<circle cx="240" cy="245.6" r="3.2" fill="url(#gr)"/>
<circle cx="336" cy="191.8" r="3.2" fill="url(#gw)"/>
<circle cx="307" cy="195.3" r="3.2" fill="url(#gw)"/>
<circle cx="316.6" cy="194.5" r="3.2" fill="url(#gw)"/>
<circle cx="353.6" cy="197.3" r="3.2" fill="url(#gw)"/>
<circle cx="374.9" cy="201.1" r="3.2" fill="url(#gw)"/>
<circle cx="316.8" cy="201.8" r="3.2" fill="url(#gw)"/>
<circle cx="328.2" cy="205.9" r="3.2" fill="url(#gw)"/>
<circle cx="327.1" cy="210.4" r="3.2" fill="url(#gw)"/>
<circle cx="316.3" cy="209.6" r="3.2" fill="url(#gw)"/>
<circle cx="337.8" cy="210.7" r="3.2" fill="url(#gw)"/>
<circle cx="339.2" cy="214.5" r="3.2" fill="url(#gw)"/>
<circle cx="361.4" cy="207.7" r="3.2" fill="url(#gw)"/>
<circle cx="359.1" cy="214.1" r="3.2" fill="url(#gw)"/>
<circle cx="302.2" cy="212.1" r="3.2" fill="url(#gw)"/>
<circle cx="312" cy="215.2" r="3.2" fill="url(#gw)"/>
<circle cx="287.7" cy="215.9" r="3.2" fill="url(#gw)"/>
<circle cx="293.5" cy="220.3" r="3.2" fill="url(#gw)"/>
<circle cx="298" cy="224.8" r="3.2" fill="url(#gw)"/>
<circle cx="314.1" cy="223.3" r="3.2" fill="url(#gw)"/>
<circle cx="319.7" cy="226.5" r="3.2" fill="url(#gw)"/>
<circle cx="338.9" cy="224" r="3.2" fill="url(#gw)"/>
<circle cx="364.6" cy="224.8" r="3.2" fill="url(#gw)"/>
<circle cx="367.7" cy="232.7" r="3.2" fill="url(#gw)"/>
<circle cx="352" cy="234" r="3.2" fill="url(#gw)"/>
<circle cx="348.8" cy="237.5" r="3.2" fill="url(#gw)"/>
<circle cx="359.8" cy="237.9" r="3.2" fill="url(#gw)"/>
<circle cx="332.6" cy="236.8" r="3.2" fill="url(#gw)"/>
<circle cx="342.4" cy="236.1" r="3.2" fill="url(#gw)"/>
<circle cx="339.9" cy="239.2" r="3.2" fill="url(#gw)"/>
<circle cx="320" cy="241" r="3.2" fill="url(#gw)"/>
<circle cx="297.4" cy="241.6" r="3.2" fill="url(#gw)"/>
<circle cx="299.8" cy="242.3" r="3.2" fill="url(#gw)"/>
<circle cx="288.4" cy="244.7" r="3.2" fill="url(#gw)"/>
<circle cx="331.7" cy="245.5" r="3.2" fill="url(#gw)"/>
<circle cx="253" cy="247.5" r="3.2" fill="url(#gw)"/>
<circle cx="249" cy="252.6" r="3.2" fill="url(#gw)"/>
<circle cx="259.6" cy="248.5" r="3.2" fill="url(#gw)"/>
<circle cx="285.3" cy="247.2" r="3.2" fill="url(#gw)"/>
<circle cx="224.2" cy="254.7" r="3.2" fill="url(#gy)"/>
<circle cx="204.7" cy="264" r="3.2" fill="url(#gw)"/>
<circle cx="209.8" cy="269.5" r="3.2" fill="url(#gr)"/>
<circle cx="304.6" cy="248.5" r="3.2" fill="url(#gw)"/>
<circle cx="316.8" cy="249.3" r="3.2" fill="url(#gw)"/>
<circle cx="313.8" cy="252.4" r="3.2" fill="url(#gw)"/>
<circle cx="323.8" cy="254.1" r="3.2" fill="url(#gw)"/>
<circle cx="366.7" cy="254" r="3.2" fill="url(#gw)"/>
<circle cx="316.3" cy="260.6" r="3.2" fill="url(#gw)"/>
<circle cx="318.6" cy="263.3" r="3.2" fill="url(#gw)"/>
<circle cx="335.8" cy="260.3" r="3.2" fill="url(#gw)"/>
<circle cx="352.2" cy="263.7" r="3.2" fill="url(#gw)"/>
<circle cx="363.2" cy="262.6" r="3.2" fill="url(#gw)"/>
<circle cx="373.5" cy="262.2" r="3.2" fill="url(#gr)"/>
<circle cx="343" cy="268.8" r="3.2" fill="url(#gw)"/>
<circle cx="204.3" cy="297.1" r="3.2" fill="url(#gy)"/>
<circle cx="211.9" cy="296.5" r="3.2" fill="url(#gr)"/>
<circle cx="259.6" cy="297.3" r="3.2" fill="url(#gr)"/>
<circle cx="295.7" cy="289.4" r="3.2" fill="url(#gr)"/>
<circle cx="302.6" cy="288.3" r="3.2" fill="url(#gr)"/>
<circle cx="317" cy="295.8" r="3.2" fill="url(#gy)"/>
<circle cx="322.7" cy="298.2" r="3.2" fill="url(#gw)"/>
<circle cx="334.6" cy="297" r="3.2" fill="url(#gw)"/>
<circle cx="348.1" cy="296.8" r="3.2" fill="url(#gw)"/>
<circle cx="220.2" cy="305.3" r="3.2" fill="url(#gw)"/>
<circle cx="235.9" cy="304.9" r="3.2" fill="url(#gy)"/>
<circle cx="282.3" cy="304.9" r="3.2" fill="url(#gw)"/>
<circle cx="210.9" cy="310.7" r="3.2" fill="url(#gr)"/>
<circle cx="226" cy="313.2" r="3.2" fill="url(#gr)"/>
<circle cx="223.9" cy="319.6" r="3.2" fill="url(#gr)"/>
<circle cx="264" cy="314.1" r="3.2" fill="url(#gr)"/>
<circle cx="250.4" cy="325.9" r="3.2" fill="url(#gy)"/>
<circle cx="256.5" cy="322.5" r="3.2" fill="url(#gy)"/>
<circle cx="243.6" cy="330.7" r="3.2" fill="url(#gr)"/>
<circle cx="269" cy="327.6" r="3.2" fill="url(#gb)"/>
<circle cx="283.8" cy="330.3" r="3.2" fill="url(#gy)"/>
<circle cx="280.9" cy="333.1" r="3.2" fill="url(#gr)"/>
<circle cx="274" cy="338.5" r="3.2" fill="url(#gr)"/>
<circle cx="215.4" cy="336.5" r="3.2" fill="url(#gw)"/>
<circle cx="211.2" cy="334.7" r="3.2" fill="url(#gb)"/>
<circle cx="204.3" cy="338.8" r="3.2" fill="url(#gy)"/>
<circle cx="221.2" cy="341" r="3.2" fill="url(#gw)"/>
<circle cx="223.5" cy="345.4" r="3.2" fill="url(#gw)"/>
<circle cx="230.1" cy="340.6" r="3.2" fill="url(#gr)"/>
<circle cx="236.7" cy="341.3" r="3.2" fill="url(#gw)"/>
<circle cx="243.6" cy="351.6" r="3.2" fill="url(#gw)"/>
<circle cx="249.3" cy="352.5" r="3.2" fill="url(#gw)"/>
<circle cx="276.4" cy="349.8" r="3.2" fill="url(#gr)"/>
<circle cx="202.7" cy="356.2" r="3.2" fill="url(#gr)"/>
<circle cx="312.4" cy="302.2" r="3.2" fill="url(#gw)"/>
<circle cx="298.4" cy="305.3" r="3.2" fill="url(#gy)"/>
<circle cx="360.9" cy="303.8" r="3.2" fill="url(#gb)"/>
<circle cx="360.1" cy="311.5" r="3.2" fill="url(#gy)"/>
<circle cx="365" cy="314.9" r="3.2" fill="url(#gr)"/>
<circle cx="327.3" cy="308.8" r="3.2" fill="url(#gr)"/>
<circle cx="322.7" cy="310.4" r="3.2" fill="url(#gr)"/>
<circle cx="322.1" cy="317" r="3.2" fill="url(#gr)"/>
<circle cx="325.9" cy="319.1" r="3.2" fill="url(#gw)"/>
<circle cx="350.5" cy="321.8" r="3.2" fill="url(#gr)"/>
<circle cx="293.5" cy="324.4" r="3.2" fill="url(#gr)"/>
<circle cx="302.8" cy="326.2" r="3.2" fill="url(#gw)"/>
<circle cx="311.5" cy="324.4" r="3.2" fill="url(#gw)"/>
<circle cx="306.7" cy="329.2" r="3.2" fill="url(#gr)"/>
<circle cx="289.4" cy="342.7" r="3.2" fill="url(#gw)"/>
<circle cx="306.3" cy="342.9" r="3.2" fill="url(#gw)"/>
<circle cx="339.2" cy="340.2" r="3.2" fill="url(#gr)"/>
<circle cx="343.7" cy="346.1" r="3.2" fill="url(#gr)"/>
<circle cx="344.3" cy="342.7" r="3.2" fill="url(#gb)"/>
<circle cx="341.3" cy="340.9" r="3.2" fill="url(#gy)"/>
<circle cx="371.5" cy="341.8" r="3.2" fill="url(#gw)"/>
<circle cx="319.3" cy="348" r="3.2" fill="url(#gb)"/>
<circle cx="308.1" cy="349.9" r="3.2" fill="url(#gw)"/>
<circle cx="329.6" cy="351.6" r="3.2" fill="url(#gr)"/>
<circle cx="298.7" cy="355.1" r="3.2" fill="url(#gw)"/>
<circle cx="360.2" cy="354.4" r="3.2" fill="url(#gw)"/>
<circle cx="276.4" cy="360.6" r="3.2" fill="url(#gb)"/>
<circle cx="261.7" cy="370.2" r="3.2" fill="url(#gb)"/>
<circle cx="245.5" cy="377.3" r="3.2" fill="url(#gr)"/>
<circle cx="272.9" cy="376.8" r="3.2" fill="url(#gr)"/>
<circle cx="198.5" cy="378.8" r="3.2" fill="url(#gw)"/>
<circle cx="219.4" cy="379.5" r="3.2" fill="url(#gy)"/>
<circle cx="249.7" cy="386" r="3.2" fill="url(#gb)"/>
<circle cx="325.9" cy="365" r="3.2" fill="url(#gw)"/>
<circle cx="314.2" cy="369.1" r="3.2" fill="url(#gr)"/>
<circle cx="293.6" cy="378.1" r="3.2" fill="url(#gw)"/>
<circle cx="321.4" cy="377.1" r="3.2" fill="url(#gw)"/>
<circle cx="341.7" cy="383" r="3.2" fill="url(#gw)"/>
<circle cx="355.4" cy="382.3" r="3.2" fill="url(#gw)"/>
<path d="M191,116.2 L197,115.6 L204.6,115.2 L214.2,117.3 L222.4,120.7 L229.2,124.1 L238.7,129.6 L248.3,134.3 L255,138.6 L264.5,143.2 L275.7,145.6 L286.8,145.3 L299.5,143.2 L310.7,140 L326.2,134.7 L342.3,127.6 L355.9,122.6 L367.3,119.4 L379.5,115.6 L374.5,121.5 L369.6,128.2 L355.9,132.2 L342.3,137 L328.6,145 L318.6,154.5 L309.1,162.5 L299.5,168.9 L290,173.6 L283.6,174.5 L278.5,174 L274.1,172.8 L264.5,167.3 L256.5,160.9 L249.7,156.2 L242.8,152.1 L236,147.3 L229.2,141.2 L222.4,135.7 L215.6,131.6 L208.7,130.9 L200.5,128.9 L196.5,122.7 Z" fill="url(#sb1)"/>
<path d="M199.2,276.2 L208,272 L218.4,267.4 L230,262.2 L241.7,257.5 L247.5,254.6 L253.4,252.3 L259,250.6 L265,249.9 L271,249.9 L276.7,250.3 L281,251.2 L284.9,252.8 L289,254.7 L293.1,256.9 L300.1,261 L305,263.3 L310,265.2 L318,268.3 L326.2,270.9 L339.9,273.1 L356.4,275.8 L367.3,276.8 L370,280 L372.8,284 L375,289 L377,294.6 L360.5,293.4 L339.9,290.8 L312.4,287.5 L285,286.2 L273.3,286.7 L259.6,288.3 L245.9,290.1 L232.2,292.1 L218.4,294.6 L204.7,295.4 L192.4,294.8 L193.5,290 L196.5,282.5 Z" fill="url(#sb2)"/><path d="M199.2,276.2 L208,272 L218.4,267.4 L230,262.2 L241.7,257.5 L247.5,254.6 L253.4,252.3 L259,250.6 L265,249.9 L271,249.9 L276.7,250.3 L281,251.2 L284.9,252.8 L289,254.7 L293.1,256.9 L300.1,261 L305,263.3 L310,265.2 L318,268.3 L326.2,270.9 L339.9,273.1 L356.4,275.8 L367.3,276.8 L370,280 L372.8,284 L375,289 L377,294.6 L360.5,293.4 L339.9,290.8 L312.4,287.5 L285,286.2 L273.3,286.7 L259.6,288.3 L245.9,290.1 L232.2,292.1 L218.4,294.6 L204.7,295.4 L192.4,294.8 L193.5,290 L196.5,282.5 Z" fill="url(#sb2h)"/>
<ellipse cx="239.3" cy="134.1" rx="3" ry="1.8" fill="url(#gw)"/>
<ellipse cx="293.2" cy="278.1" rx="3" ry="1.3" fill="url(#gw)"/>
<ellipse cx="271.7" cy="281.2" rx="3" ry="1.4" fill="url(#gw)"/>
<ellipse cx="260.6" cy="288.7" rx="3" ry="1.3" fill="url(#gw)"/>
<circle cx="266.2" cy="143.3" r="3.2" fill="url(#gw)"/>
<circle cx="282.9" cy="164.7" r="3.2" fill="url(#gr)"/>
<circle cx="287.5" cy="161.3" r="3.2" fill="url(#gw)"/>
<circle cx="300.1" cy="157.4" r="3.2" fill="url(#gw)"/>
<circle cx="321" cy="143" r="3.2" fill="url(#gw)"/>
<circle cx="333.3" cy="137.5" r="3.2" fill="url(#gw)"/>
<circle cx="345.4" cy="136.6" r="3.2" fill="url(#gw)"/>
<circle cx="227.4" cy="268.4" r="3.2" fill="url(#gw)"/>
<circle cx="300.1" cy="278.8" r="3.2" fill="url(#gw)"/>
</g>
<path d="M484.3,26 C484.3,31.7 484.4,49.8 484.3,60" fill="none" stroke="#e8e000" stroke-width="2.4" stroke-dasharray="2.8 3.1" stroke-dashoffset="0"/>
<path d="M484.3,60 C484.2,70.2 484.2,80.2 483.7,87" fill="none" stroke="#e8e000" stroke-width="2.4" stroke-dasharray="2.8 3.1" stroke-dashoffset="34"/>
<path d="M483.7,87 C483.2,93.8 482.4,96.8 481.3,101" fill="none" stroke="#e8e000" stroke-width="2.4" stroke-dasharray="2.8 3.1" stroke-dashoffset="61"/>
<path d="M481.3,101 C480.1,105.2 478.8,107.8 477.2,112" fill="none" stroke="#e8e000" stroke-width="2.4" stroke-dasharray="2.8 3.1" stroke-dashoffset="75.2"/>
<path d="M477.2,112 C475.6,116.2 473.5,121 471.7,126" fill="none" stroke="#e8e000" stroke-width="2.4" stroke-dasharray="2.8 3.1" stroke-dashoffset="86.7"/>
<path d="M471.7,126 C469.8,131 467.4,137.2 466,142" fill="none" stroke="#e8e000" stroke-width="2.4" stroke-dasharray="2.8 3.1" stroke-dashoffset="101.4"/>
<path d="M466,142 C464.5,146.8 463.8,150.3 463.3,155" fill="none" stroke="#e8e000" stroke-width="2.4" stroke-dasharray="2.8 3.1" stroke-dashoffset="118.1"/>
<path d="M463.3,155 C462.8,159.7 462.7,164.2 462.6,170" fill="none" stroke="#e8e000" stroke-width="2.4" stroke-dasharray="2.8 3.1" stroke-dashoffset="131.3"/>
<path d="M462.6,170 C462.5,175.8 462.5,181.7 462.5,190" fill="none" stroke="#e8e000" stroke-width="2.4" stroke-dasharray="2.8 3.1" stroke-dashoffset="146.3"/>
<path d="M462.5,190 C462.5,198.3 462.4,212 462.5,220" fill="none" stroke="#e8e000" stroke-width="2.4" stroke-dasharray="2.8 3.1" stroke-dashoffset="166.3"/>
<path d="M462.5,220 C462.6,228 462.7,233.5 462.8,238" fill="none" stroke="#e8e000" stroke-width="2.4" stroke-dasharray="2.8 3.1" stroke-dashoffset="196.3"/>
<path d="M462.8,238 C462.9,242.5 463,242.7 463.5,247" fill="none" stroke="#e8e000" stroke-width="2.4" stroke-dasharray="2.8 3.1" stroke-dashoffset="214.3"/>
<path d="M463.5,247 C464.2,251.3 465.4,259.2 466.6,264" fill="none" stroke="#e8e000" stroke-width="2.4" stroke-dasharray="2.8 3.1" stroke-dashoffset="223.3"/>
<path d="M466.6,264 C467.9,268.8 469.5,272.2 471.1,276" fill="none" stroke="#e8e000" stroke-width="2.4" stroke-dasharray="2.8 3.1" stroke-dashoffset="240.4"/>
<path d="M471.1,276 C472.7,279.8 474.7,283.3 476.3,287" fill="none" stroke="#e8e000" stroke-width="2.4" stroke-dasharray="2.8 3.1" stroke-dashoffset="253"/>
<path d="M476.3,287 C478,290.7 479.7,295.2 480.8,298" fill="none" stroke="#e8e000" stroke-width="2.4" stroke-dasharray="2.8 3.1" stroke-dashoffset="264.9"/>
<path d="M480.8,298 C481.8,300.8 482.2,301.2 482.7,304" fill="none" stroke="#e8e000" stroke-width="2.4" stroke-dasharray="2.8 3.1" stroke-dashoffset="276.5"/>
<path d="M482.7,304 C483.2,306.8 483.6,310.7 483.9,315" fill="none" stroke="#e8e000" stroke-width="2.4" stroke-dasharray="2.8 3.1" stroke-dashoffset="282.8"/>
<path d="M483.9,315 C484.1,319.3 484.1,317.7 484.2,330" fill="none" stroke="#e8e000" stroke-width="2.4" stroke-dasharray="2.8 3.1" stroke-dashoffset="293.9"/>
<path d="M484.2,330 C484.2,342.3 484.2,379.2 484.2,389" fill="none" stroke="#e8e000" stroke-width="2.4" stroke-dasharray="2.8 3.1" stroke-dashoffset="308.9"/>
<path d="M483,26 C483,31.7 483.1,49.8 483,60 C482.9,70.2 482.9,80.2 482.4,87 C481.9,93.8 481.1,96.8 480.1,101 C479.2,105.2 478,107.8 476.7,112 C475.4,116.2 473.7,121 472.2,126 C470.7,131 468.7,137.2 467.6,142 C466.5,146.8 466,150.3 465.5,155 C465,159.7 464.9,164.2 464.8,170 C464.7,175.8 464.7,181.7 464.7,190 C464.7,198.3 464.6,212 464.7,220 C464.8,228 464.9,233.5 465,238 C465.1,242.5 465.2,242.7 465.6,247 C466,251.3 466.7,259.2 467.6,264 C468.6,268.8 469.9,272.2 471.3,276 C472.7,279.8 474.4,283.3 475.8,287 C477.2,290.7 478.6,295.2 479.5,298 C480.4,300.8 480.8,301.2 481.3,304 C481.8,306.8 482.2,310.7 482.5,315 C482.8,319.3 482.8,317.7 482.8,330 C482.9,342.3 482.8,379.2 482.8,389" fill="none" stroke="#1a50ff" stroke-width="2.4" stroke-dasharray="2.8 3.1"/>
<path d="M522.9,23.2 C522.9,29.3 522.8,52 522.8,60 C522.8,68 522.8,68 522.7,71 C522.6,74 522.4,74.8 522.1,78 C521.8,81.2 521.4,87 521,90 C520.6,93 520,94.2 519.5,96 C519,97.8 518.5,99.2 517.7,101 C517,102.8 516,104.9 515,106.8 C514,108.7 512.7,110.7 511.4,112.3 C510.1,113.9 508.7,115.1 507.3,116.4 C505.9,117.7 504.6,118.9 503.2,120 C501.8,121.1 500.1,121.8 498.6,123.2 C497.1,124.6 495.6,126.7 494.1,128.2 C492.6,129.7 490.9,130.9 489.5,132.3 C488.1,133.7 486.7,135.3 485.5,136.8 C484.3,138.3 483.5,139 482.1,141.5 C480.7,144 478.4,149.2 477.3,152 C476.2,154.8 476,156 475.6,158 C475.2,160 474.9,161.2 474.7,164 C474.4,166.8 474.2,169 474.1,175 C474,181 474,190.7 474,200 C474,209.3 473.7,223.8 474,231 C474.3,238.2 475.2,239.2 475.9,243 C476.6,246.8 476.9,250.1 478.1,253.5 C479.3,256.9 481.1,260.8 483.2,263.7 C485.3,266.6 488.1,268.6 490.5,271 C492.9,273.4 495.6,276.1 497.8,278.3 C500,280.6 501.2,281.9 503.6,284.5 C506,287.1 510.2,291.5 512.4,294.2 C514.6,296.9 515.5,298.4 516.8,300.8 C518.1,303.2 519.5,306 520.4,308.8 C521.2,311.6 521.5,314.1 521.9,317.6 C522.3,321.1 522.5,324.6 522.7,330 C522.9,335.4 522.9,340.2 522.9,350 C522.9,359.8 522.9,382.5 522.9,389" fill="none" stroke="#ff1010" stroke-width="2.4" stroke-dasharray="2.8 3.1"/>
<path d="M510.4,30 C510.4,35.8 510.2,57.3 510.4,65 C510.6,72.7 511,72.5 511.5,76 C512,79.5 512.9,83.1 513.6,85.7 C514.4,88.3 515.1,89.7 516,91.5 C516.9,93.3 517.7,94.9 519,96.5 C520.3,98.1 522.3,99.7 524,101 C525.7,102.3 527.3,103.5 529,104.5 C530.7,105.5 532.3,106.5 534,107.3 C535.7,108.1 536.5,108.5 539.2,109.6 C541.9,110.7 546.4,112.5 550,114 C553.6,115.5 557.4,117.1 561.1,118.4 C564.8,119.7 568.4,120.8 572,122 C575.6,123.2 579.2,124.5 583,125.7 C586.8,126.9 591.1,127.9 595,129 C598.9,130.1 602.6,130.8 606.4,132.2 C610.2,133.6 613.7,135.6 617.7,137.3 C621.7,139.1 626.5,140.6 630.5,142.7 C634.5,144.8 638.5,147.3 641.4,150 C644.3,152.7 646,155.5 647.7,159.1 C649.4,162.7 650.6,167.6 651.4,171.8 C652.2,176 652.1,179.8 652.3,184.5 C652.5,189.2 652.4,195 652.5,200 C652.6,205 652.9,209.8 652.8,214.5 C652.7,219.2 652.4,223.9 652,228 C651.6,232.1 651.4,236.1 650.5,239 C649.6,241.9 648.6,242.9 646.8,245.5 C645,248.1 642.5,251.8 639.5,254.5 C636.5,257.2 632.5,259.5 628.6,261.8 C624.7,264.1 619.6,266.4 615.9,268.2 C612.2,270 609.3,271.4 606.3,272.7 C603.3,274 602.2,274.7 598.1,276.1 C594,277.5 587.5,279.4 581.8,280.9 C576.1,282.4 570.4,283.2 564,285 C557.6,286.8 549.8,288.9 543.6,291.8 C537.4,294.7 531,299 526.7,302.4 C522.4,305.8 520.3,308.8 518,311.9 C515.7,314.9 513.9,318.1 512.8,320.7 C511.7,323.2 511.8,324.8 511.4,327.2 C511,329.6 510.7,331.2 510.5,335 C510.3,338.8 510.2,341 510.2,350 C510.1,359 510.2,382.5 510.2,389" fill="none" stroke="#000" stroke-width="2.4" stroke-dasharray="2.8 3.1"/>
<path d="M454,24 V389.5 H685" fill="none" stroke="#4a4a4a" stroke-width="1.3"/>
<line x1="454" y1="306.5" x2="462" y2="306.5" stroke="#4a4a4a" stroke-width="1.3"/>
<text x="445.5" y="312.1" font-size="16" text-anchor="end" fill="#111">5</text>
<line x1="454" y1="223.9" x2="462" y2="223.9" stroke="#4a4a4a" stroke-width="1.3"/>
<text x="445.5" y="229.5" font-size="16" text-anchor="end" fill="#111">10</text>
<line x1="454" y1="141.2" x2="462" y2="141.2" stroke="#4a4a4a" stroke-width="1.3"/>
<text x="445.5" y="146.8" font-size="16" text-anchor="end" fill="#111">15</text>
<line x1="454" y1="58.6" x2="462" y2="58.6" stroke="#4a4a4a" stroke-width="1.3"/>
<text x="445.5" y="64.2" font-size="16" text-anchor="end" fill="#111">20</text>
<text x="445.5" y="394.8" font-size="16" text-anchor="end" fill="#111">0</text>
<line x1="461.1" y1="389.5" x2="461.1" y2="381.5" stroke="#4a4a4a" stroke-width="1.3"/>
<line x1="490.2" y1="389.5" x2="490.2" y2="385" stroke="#4a4a4a" stroke-width="1.3"/>
<line x1="519.4" y1="389.5" x2="519.4" y2="381.5" stroke="#4a4a4a" stroke-width="1.3"/>
<line x1="548.5" y1="389.5" x2="548.5" y2="385" stroke="#4a4a4a" stroke-width="1.3"/>
<line x1="577.7" y1="389.5" x2="577.7" y2="381.5" stroke="#4a4a4a" stroke-width="1.3"/>
<line x1="606.9" y1="389.5" x2="606.9" y2="385" stroke="#4a4a4a" stroke-width="1.3"/>
<line x1="636" y1="389.5" x2="636" y2="381.5" stroke="#4a4a4a" stroke-width="1.3"/>
<line x1="665.1" y1="389.5" x2="665.1" y2="385" stroke="#4a4a4a" stroke-width="1.3"/>
<text x="461.1" y="409.8" font-size="16" text-anchor="middle" fill="#111">0</text>
<text x="519.4" y="409.8" font-size="16" text-anchor="middle" fill="#111">0.04</text>
<text x="577.7" y="409.8" font-size="16" text-anchor="middle" fill="#111">0.08</text>
<text x="636" y="409.8" font-size="16" text-anchor="middle" fill="#111">0.12</text>
<text x="493.3" y="436.5" font-size="16" fill="#111">Number density (Å<tspan font-size="11" dy="-6.5">−3</tspan><tspan dy="6.5">)</tspan></text>
<text transform="translate(412.7,247.7) rotate(-90)" x="0" y="0" font-size="16" fill="#111">Position (Å)</text>
<circle cx="474.4" cy="389.2" r="2.75" fill="#f5f000" stroke="#000" stroke-width="0.7"/>
<circle cx="472.5" cy="381.9" r="2.75" fill="#f5f000" stroke="#000" stroke-width="0.7"/>
<circle cx="473.5" cy="374.6" r="2.75" fill="#f5f000" stroke="#000" stroke-width="0.7"/>
<circle cx="471.5" cy="367.3" r="2.75" fill="#f5f000" stroke="#000" stroke-width="0.7"/>
<circle cx="471.8" cy="360" r="2.75" fill="#f5f000" stroke="#000" stroke-width="0.7"/>
<circle cx="480" cy="352.7" r="2.75" fill="#f5f000" stroke="#000" stroke-width="0.7"/>
<circle cx="487" cy="345.4" r="2.75" fill="#f5f000" stroke="#000" stroke-width="0.7"/>
<circle cx="496.6" cy="338.1" r="2.75" fill="#f5f000" stroke="#000" stroke-width="0.7"/>
<circle cx="487.3" cy="330.8" r="2.75" fill="#f5f000" stroke="#000" stroke-width="0.7"/>
<circle cx="475.6" cy="323.4" r="2.75" fill="#f5f000" stroke="#000" stroke-width="0.7"/>
<circle cx="481.4" cy="316.1" r="2.75" fill="#f5f000" stroke="#000" stroke-width="0.7"/>
<circle cx="485.5" cy="308.8" r="2.75" fill="#f5f000" stroke="#000" stroke-width="0.7"/>
<circle cx="486.1" cy="301.5" r="2.75" fill="#f5f000" stroke="#000" stroke-width="0.7"/>
<circle cx="492.7" cy="294.2" r="2.75" fill="#f5f000" stroke="#000" stroke-width="0.7"/>
<circle cx="486.8" cy="286.9" r="2.75" fill="#f5f000" stroke="#000" stroke-width="0.7"/>
<circle cx="474.7" cy="279.6" r="2.75" fill="#f5f000" stroke="#000" stroke-width="0.7"/>
<circle cx="466" cy="272.3" r="2.75" fill="#f5f000" stroke="#000" stroke-width="0.7"/>
<circle cx="462.5" cy="265" r="2.75" fill="#f5f000" stroke="#000" stroke-width="0.7"/>
<circle cx="462.8" cy="257.7" r="2.75" fill="#f5f000" stroke="#000" stroke-width="0.7"/>
<circle cx="463" cy="250.4" r="2.75" fill="#f5f000" stroke="#000" stroke-width="0.7"/>
<circle cx="467.9" cy="243.1" r="2.75" fill="#f5f000" stroke="#000" stroke-width="0.7"/>
<circle cx="469.3" cy="235.8" r="2.75" fill="#f5f000" stroke="#000" stroke-width="0.7"/>
<circle cx="465.7" cy="228.5" r="2.75" fill="#f5f000" stroke="#000" stroke-width="0.7"/>
<circle cx="462" cy="221.2" r="2.75" fill="#f5f000" stroke="#000" stroke-width="0.7"/>
<circle cx="461" cy="213.9" r="2.75" fill="#f5f000" stroke="#000" stroke-width="0.7"/>
<circle cx="461" cy="206.5" r="2.75" fill="#f5f000" stroke="#000" stroke-width="0.7"/>
<circle cx="461" cy="199.2" r="2.75" fill="#f5f000" stroke="#000" stroke-width="0.7"/>
<circle cx="461" cy="191.9" r="2.75" fill="#f5f000" stroke="#000" stroke-width="0.7"/>
<circle cx="461" cy="184.6" r="2.75" fill="#f5f000" stroke="#000" stroke-width="0.7"/>
<circle cx="460.9" cy="177.3" r="2.75" fill="#f5f000" stroke="#000" stroke-width="0.7"/>
<circle cx="461.2" cy="170" r="2.75" fill="#f5f000" stroke="#000" stroke-width="0.7"/>
<circle cx="461.2" cy="162.7" r="2.75" fill="#f5f000" stroke="#000" stroke-width="0.7"/>
<circle cx="460.5" cy="155.4" r="2.75" fill="#f5f000" stroke="#000" stroke-width="0.7"/>
<circle cx="460.5" cy="148.1" r="2.75" fill="#f5f000" stroke="#000" stroke-width="0.7"/>
<circle cx="461.3" cy="140.8" r="2.75" fill="#f5f000" stroke="#000" stroke-width="0.7"/>
<circle cx="462.9" cy="133.5" r="2.75" fill="#f5f000" stroke="#000" stroke-width="0.7"/>
<circle cx="473.7" cy="126.2" r="2.75" fill="#f5f000" stroke="#000" stroke-width="0.7"/>
<circle cx="484.6" cy="118.9" r="2.75" fill="#f5f000" stroke="#000" stroke-width="0.7"/>
<circle cx="478.5" cy="111.6" r="2.75" fill="#f5f000" stroke="#000" stroke-width="0.7"/>
<circle cx="468.6" cy="104.3" r="2.75" fill="#f5f000" stroke="#000" stroke-width="0.7"/>
<circle cx="484" cy="97" r="2.75" fill="#f5f000" stroke="#000" stroke-width="0.7"/>
<circle cx="494.3" cy="89.7" r="2.75" fill="#f5f000" stroke="#000" stroke-width="0.7"/>
<circle cx="497" cy="82.3" r="2.75" fill="#f5f000" stroke="#000" stroke-width="0.7"/>
<circle cx="496.7" cy="75" r="2.75" fill="#f5f000" stroke="#000" stroke-width="0.7"/>
<circle cx="499" cy="67.7" r="2.75" fill="#f5f000" stroke="#000" stroke-width="0.7"/>
<circle cx="489.1" cy="60.4" r="2.75" fill="#f5f000" stroke="#000" stroke-width="0.7"/>
<circle cx="487.3" cy="53.1" r="2.75" fill="#f5f000" stroke="#000" stroke-width="0.7"/>
<circle cx="486.3" cy="45.8" r="2.75" fill="#f5f000" stroke="#000" stroke-width="0.7"/>
<circle cx="477.9" cy="38.5" r="2.75" fill="#f5f000" stroke="#000" stroke-width="0.7"/>
<circle cx="475.5" cy="31.2" r="2.75" fill="#f5f000" stroke="#000" stroke-width="0.7"/>
<circle cx="475.5" cy="23.9" r="2.75" fill="#f5f000" stroke="#000" stroke-width="0.7"/>
<circle cx="519.7" cy="389.2" r="2.75" fill="#ff0000" stroke="#000" stroke-width="0.7"/>
<circle cx="515.9" cy="381.9" r="2.75" fill="#ff0000" stroke="#000" stroke-width="0.7"/>
<circle cx="507.1" cy="374.6" r="2.75" fill="#ff0000" stroke="#000" stroke-width="0.7"/>
<circle cx="509.9" cy="367.3" r="2.75" fill="#ff0000" stroke="#000" stroke-width="0.7"/>
<circle cx="516.5" cy="360" r="2.75" fill="#ff0000" stroke="#000" stroke-width="0.7"/>
<circle cx="513.1" cy="352.7" r="2.75" fill="#ff0000" stroke="#000" stroke-width="0.7"/>
<circle cx="520" cy="345.4" r="2.75" fill="#ff0000" stroke="#000" stroke-width="0.7"/>
<circle cx="512.7" cy="338.1" r="2.75" fill="#ff0000" stroke="#000" stroke-width="0.7"/>
<circle cx="506.8" cy="330.8" r="2.75" fill="#ff0000" stroke="#000" stroke-width="0.7"/>
<circle cx="520" cy="323.4" r="2.75" fill="#ff0000" stroke="#000" stroke-width="0.7"/>
<circle cx="557.1" cy="316.1" r="2.75" fill="#ff0000" stroke="#000" stroke-width="0.7"/>
<circle cx="531.1" cy="308.8" r="2.75" fill="#ff0000" stroke="#000" stroke-width="0.7"/>
<circle cx="500.9" cy="301.5" r="2.75" fill="#ff0000" stroke="#000" stroke-width="0.7"/>
<circle cx="499" cy="294.2" r="2.75" fill="#ff0000" stroke="#000" stroke-width="0.7"/>
<circle cx="508" cy="286.9" r="2.75" fill="#ff0000" stroke="#000" stroke-width="0.7"/>
<circle cx="506.3" cy="279.6" r="2.75" fill="#ff0000" stroke="#000" stroke-width="0.7"/>
<circle cx="500" cy="272.3" r="2.75" fill="#ff0000" stroke="#000" stroke-width="0.7"/>
<circle cx="490.5" cy="265" r="2.75" fill="#ff0000" stroke="#000" stroke-width="0.7"/>
<circle cx="481.7" cy="257.7" r="2.75" fill="#ff0000" stroke="#000" stroke-width="0.7"/>
<circle cx="479.8" cy="250.4" r="2.75" fill="#ff0000" stroke="#000" stroke-width="0.7"/>
<circle cx="476.9" cy="243.1" r="2.75" fill="#ff0000" stroke="#000" stroke-width="0.7"/>
<circle cx="473" cy="235.8" r="2.75" fill="#ff0000" stroke="#000" stroke-width="0.7"/>
<circle cx="469.3" cy="228.5" r="2.75" fill="#ff0000" stroke="#000" stroke-width="0.7"/>
<circle cx="466.8" cy="221.2" r="2.75" fill="#ff0000" stroke="#000" stroke-width="0.7"/>
<circle cx="468.5" cy="213.9" r="2.75" fill="#ff0000" stroke="#000" stroke-width="0.7"/>
<circle cx="465.2" cy="206.5" r="2.75" fill="#ff0000" stroke="#000" stroke-width="0.7"/>
<circle cx="463.5" cy="199.2" r="2.75" fill="#ff0000" stroke="#000" stroke-width="0.7"/>
<circle cx="465.2" cy="191.9" r="2.75" fill="#ff0000" stroke="#000" stroke-width="0.7"/>
<circle cx="469.5" cy="184.6" r="2.75" fill="#ff0000" stroke="#000" stroke-width="0.7"/>
<circle cx="473.2" cy="177.3" r="2.75" fill="#ff0000" stroke="#000" stroke-width="0.7"/>
<circle cx="480.6" cy="170" r="2.75" fill="#ff0000" stroke="#000" stroke-width="0.7"/>
<circle cx="482.1" cy="162.7" r="2.75" fill="#ff0000" stroke="#000" stroke-width="0.7"/>
<circle cx="481.2" cy="155.4" r="2.75" fill="#ff0000" stroke="#000" stroke-width="0.7"/>
<circle cx="477.5" cy="148.1" r="2.75" fill="#ff0000" stroke="#000" stroke-width="0.7"/>
<circle cx="477.1" cy="140.8" r="2.75" fill="#ff0000" stroke="#000" stroke-width="0.7"/>
<circle cx="488.7" cy="133.5" r="2.75" fill="#ff0000" stroke="#000" stroke-width="0.7"/>
<circle cx="498.4" cy="126.2" r="2.75" fill="#ff0000" stroke="#000" stroke-width="0.7"/>
<circle cx="494.4" cy="118.9" r="2.75" fill="#ff0000" stroke="#000" stroke-width="0.7"/>
<circle cx="500.9" cy="111.6" r="2.75" fill="#ff0000" stroke="#000" stroke-width="0.7"/>
<circle cx="508.2" cy="104.3" r="2.75" fill="#ff0000" stroke="#000" stroke-width="0.7"/>
<circle cx="536.4" cy="97" r="2.75" fill="#ff0000" stroke="#000" stroke-width="0.7"/>
<circle cx="552.2" cy="89.7" r="2.75" fill="#ff0000" stroke="#000" stroke-width="0.7"/>
<circle cx="530.8" cy="82.3" r="2.75" fill="#ff0000" stroke="#000" stroke-width="0.7"/>
<circle cx="515.6" cy="75" r="2.75" fill="#ff0000" stroke="#000" stroke-width="0.7"/>
<circle cx="519.7" cy="67.7" r="2.75" fill="#ff0000" stroke="#000" stroke-width="0.7"/>
<circle cx="527.1" cy="60.4" r="2.75" fill="#ff0000" stroke="#000" stroke-width="0.7"/>
<circle cx="536.2" cy="53.1" r="2.75" fill="#ff0000" stroke="#000" stroke-width="0.7"/>
<circle cx="542.6" cy="45.8" r="2.75" fill="#ff0000" stroke="#000" stroke-width="0.7"/>
<circle cx="541.4" cy="38.5" r="2.75" fill="#ff0000" stroke="#000" stroke-width="0.7"/>
<circle cx="524.5" cy="31.2" r="2.75" fill="#ff0000" stroke="#000" stroke-width="0.7"/>
<circle cx="517.6" cy="23.9" r="2.75" fill="#ff0000" stroke="#000" stroke-width="0.7"/>
<circle cx="499.5" cy="389.2" r="2.75" fill="#0a3cff" stroke="#000" stroke-width="0.7"/>
<circle cx="494.1" cy="381.9" r="2.75" fill="#0a3cff" stroke="#000" stroke-width="0.7"/>
<circle cx="471.8" cy="374.6" r="2.75" fill="#0a3cff" stroke="#000" stroke-width="0.7"/>
<circle cx="463.1" cy="367.3" r="2.75" fill="#0a3cff" stroke="#000" stroke-width="0.7"/>
<circle cx="473.7" cy="360" r="2.75" fill="#0a3cff" stroke="#000" stroke-width="0.7"/>
<circle cx="488.7" cy="352.7" r="2.75" fill="#0a3cff" stroke="#000" stroke-width="0.7"/>
<circle cx="478.8" cy="345.4" r="2.75" fill="#0a3cff" stroke="#000" stroke-width="0.7"/>
<circle cx="476.6" cy="338.1" r="2.75" fill="#0a3cff" stroke="#000" stroke-width="0.7"/>
<circle cx="482.2" cy="330.8" r="2.75" fill="#0a3cff" stroke="#000" stroke-width="0.7"/>
<circle cx="477.1" cy="323.4" r="2.75" fill="#0a3cff" stroke="#000" stroke-width="0.7"/>
<circle cx="471.1" cy="316.1" r="2.75" fill="#0a3cff" stroke="#000" stroke-width="0.7"/>
<circle cx="477.8" cy="308.8" r="2.75" fill="#0a3cff" stroke="#000" stroke-width="0.7"/>
<circle cx="488.5" cy="301.5" r="2.75" fill="#0a3cff" stroke="#000" stroke-width="0.7"/>
<circle cx="479.3" cy="294.2" r="2.75" fill="#0a3cff" stroke="#000" stroke-width="0.7"/>
<circle cx="471.1" cy="286.9" r="2.75" fill="#0a3cff" stroke="#000" stroke-width="0.7"/>
<circle cx="467.4" cy="279.6" r="2.75" fill="#0a3cff" stroke="#000" stroke-width="0.7"/>
<circle cx="471.2" cy="272.3" r="2.75" fill="#0a3cff" stroke="#000" stroke-width="0.7"/>
<circle cx="472.7" cy="265" r="2.75" fill="#0a3cff" stroke="#000" stroke-width="0.7"/>
<circle cx="470.5" cy="257.7" r="2.75" fill="#0a3cff" stroke="#000" stroke-width="0.7"/>
<circle cx="464.5" cy="250.4" r="2.75" fill="#0a3cff" stroke="#000" stroke-width="0.7"/>
<circle cx="461.3" cy="243.1" r="2.75" fill="#0a3cff" stroke="#000" stroke-width="0.7"/>
<circle cx="461" cy="235.8" r="2.75" fill="#0a3cff" stroke="#000" stroke-width="0.7"/>
<circle cx="460.9" cy="228.5" r="2.75" fill="#0a3cff" stroke="#000" stroke-width="0.7"/>
<circle cx="461.3" cy="221.2" r="2.75" fill="#0a3cff" stroke="#000" stroke-width="0.7"/>
<circle cx="461.3" cy="213.9" r="2.75" fill="#0a3cff" stroke="#000" stroke-width="0.7"/>
<circle cx="461.3" cy="206.5" r="2.75" fill="#0a3cff" stroke="#000" stroke-width="0.7"/>
<circle cx="461.3" cy="199.2" r="2.75" fill="#0a3cff" stroke="#000" stroke-width="0.7"/>
<circle cx="461.3" cy="191.9" r="2.75" fill="#0a3cff" stroke="#000" stroke-width="0.7"/>
<circle cx="461.3" cy="184.6" r="2.75" fill="#0a3cff" stroke="#000" stroke-width="0.7"/>
<circle cx="464.8" cy="177.3" r="2.75" fill="#0a3cff" stroke="#000" stroke-width="0.7"/>
<circle cx="473.9" cy="170" r="2.75" fill="#0a3cff" stroke="#000" stroke-width="0.7"/>
<circle cx="469.1" cy="162.7" r="2.75" fill="#0a3cff" stroke="#000" stroke-width="0.7"/>
<circle cx="462.9" cy="155.4" r="2.75" fill="#0a3cff" stroke="#000" stroke-width="0.7"/>
<circle cx="463.9" cy="148.1" r="2.75" fill="#0a3cff" stroke="#000" stroke-width="0.7"/>
<circle cx="470" cy="140.8" r="2.75" fill="#0a3cff" stroke="#000" stroke-width="0.7"/>
<circle cx="471.7" cy="133.5" r="2.75" fill="#0a3cff" stroke="#000" stroke-width="0.7"/>
<circle cx="467.1" cy="126.2" r="2.75" fill="#0a3cff" stroke="#000" stroke-width="0.7"/>
<circle cx="473.3" cy="118.9" r="2.75" fill="#0a3cff" stroke="#000" stroke-width="0.7"/>
<circle cx="476.4" cy="111.6" r="2.75" fill="#0a3cff" stroke="#000" stroke-width="0.7"/>
<circle cx="485.2" cy="104.3" r="2.75" fill="#0a3cff" stroke="#000" stroke-width="0.7"/>
<circle cx="492" cy="97" r="2.75" fill="#0a3cff" stroke="#000" stroke-width="0.7"/>
<circle cx="482.6" cy="89.7" r="2.75" fill="#0a3cff" stroke="#000" stroke-width="0.7"/>
<circle cx="480.8" cy="82.3" r="2.75" fill="#0a3cff" stroke="#000" stroke-width="0.7"/>
<circle cx="479.3" cy="75" r="2.75" fill="#0a3cff" stroke="#000" stroke-width="0.7"/>
<circle cx="484.9" cy="67.7" r="2.75" fill="#0a3cff" stroke="#000" stroke-width="0.7"/>
<circle cx="478.2" cy="60.4" r="2.75" fill="#0a3cff" stroke="#000" stroke-width="0.7"/>
<circle cx="472.4" cy="53.1" r="2.75" fill="#0a3cff" stroke="#000" stroke-width="0.7"/>
<circle cx="480.8" cy="45.8" r="2.75" fill="#0a3cff" stroke="#000" stroke-width="0.7"/>
<circle cx="494.1" cy="38.5" r="2.75" fill="#0a3cff" stroke="#000" stroke-width="0.7"/>
<circle cx="500.6" cy="31.2" r="2.75" fill="#0a3cff" stroke="#000" stroke-width="0.7"/>
<circle cx="505.8" cy="23.9" r="2.75" fill="#0a3cff" stroke="#000" stroke-width="0.7"/>
<circle cx="531.8" cy="389.2" r="2.75" fill="#ffffff" stroke="#000" stroke-width="0.7"/>
<circle cx="539.8" cy="381.9" r="2.75" fill="#ffffff" stroke="#000" stroke-width="0.7"/>
<circle cx="541.2" cy="374.6" r="2.75" fill="#ffffff" stroke="#000" stroke-width="0.7"/>
<circle cx="545.1" cy="367.3" r="2.75" fill="#ffffff" stroke="#000" stroke-width="0.7"/>
<circle cx="551.1" cy="360" r="2.75" fill="#ffffff" stroke="#000" stroke-width="0.7"/>
<circle cx="545.7" cy="352.7" r="2.75" fill="#ffffff" stroke="#000" stroke-width="0.7"/>
<circle cx="530.6" cy="345.4" r="2.75" fill="#ffffff" stroke="#000" stroke-width="0.7"/>
<circle cx="521.9" cy="338.1" r="2.75" fill="#ffffff" stroke="#000" stroke-width="0.7"/>
<circle cx="515" cy="330.8" r="2.75" fill="#ffffff" stroke="#000" stroke-width="0.7"/>
<circle cx="506.6" cy="323.4" r="2.75" fill="#ffffff" stroke="#000" stroke-width="0.7"/>
<circle cx="512.7" cy="316.1" r="2.75" fill="#ffffff" stroke="#000" stroke-width="0.7"/>
<circle cx="521.6" cy="308.8" r="2.75" fill="#ffffff" stroke="#000" stroke-width="0.7"/>
<circle cx="528.6" cy="301.5" r="2.75" fill="#ffffff" stroke="#000" stroke-width="0.7"/>
<circle cx="536.2" cy="294.2" r="2.75" fill="#ffffff" stroke="#000" stroke-width="0.7"/>
<circle cx="556.6" cy="286.9" r="2.75" fill="#ffffff" stroke="#000" stroke-width="0.7"/>
<circle cx="589" cy="279.6" r="2.75" fill="#ffffff" stroke="#000" stroke-width="0.7"/>
<circle cx="616.3" cy="272.3" r="2.75" fill="#ffffff" stroke="#000" stroke-width="0.7"/>
<circle cx="619.9" cy="265" r="2.75" fill="#ffffff" stroke="#000" stroke-width="0.7"/>
<circle cx="615" cy="257.7" r="2.75" fill="#ffffff" stroke="#000" stroke-width="0.7"/>
<circle cx="632.3" cy="250.4" r="2.75" fill="#ffffff" stroke="#000" stroke-width="0.7"/>
<circle cx="643.7" cy="243.1" r="2.75" fill="#ffffff" stroke="#000" stroke-width="0.7"/>
<circle cx="649.9" cy="235.8" r="2.75" fill="#ffffff" stroke="#000" stroke-width="0.7"/>
<circle cx="650.8" cy="228.5" r="2.75" fill="#ffffff" stroke="#000" stroke-width="0.7"/>
<circle cx="650.8" cy="221.2" r="2.75" fill="#ffffff" stroke="#000" stroke-width="0.7"/>
<circle cx="659.9" cy="213.9" r="2.75" fill="#ffffff" stroke="#000" stroke-width="0.7"/>
<circle cx="674.5" cy="206.5" r="2.75" fill="#ffffff" stroke="#000" stroke-width="0.7"/>
<circle cx="671.7" cy="199.2" r="2.75" fill="#ffffff" stroke="#000" stroke-width="0.7"/>
<circle cx="665" cy="191.9" r="2.75" fill="#ffffff" stroke="#000" stroke-width="0.7"/>
<circle cx="656.3" cy="184.6" r="2.75" fill="#ffffff" stroke="#000" stroke-width="0.7"/>
<circle cx="649" cy="177.3" r="2.75" fill="#ffffff" stroke="#000" stroke-width="0.7"/>
<circle cx="636.5" cy="170" r="2.75" fill="#ffffff" stroke="#000" stroke-width="0.7"/>
<circle cx="637.7" cy="162.7" r="2.75" fill="#ffffff" stroke="#000" stroke-width="0.7"/>
<circle cx="661.7" cy="155.4" r="2.75" fill="#ffffff" stroke="#000" stroke-width="0.7"/>
<circle cx="653.4" cy="148.1" r="2.75" fill="#ffffff" stroke="#000" stroke-width="0.7"/>
<circle cx="613.7" cy="140.8" r="2.75" fill="#ffffff" stroke="#000" stroke-width="0.7"/>
<circle cx="602" cy="133.5" r="2.75" fill="#ffffff" stroke="#000" stroke-width="0.7"/>
<circle cx="585.2" cy="126.2" r="2.75" fill="#ffffff" stroke="#000" stroke-width="0.7"/>
<circle cx="565.2" cy="118.9" r="2.75" fill="#ffffff" stroke="#000" stroke-width="0.7"/>
<circle cx="546.1" cy="111.6" r="2.75" fill="#ffffff" stroke="#000" stroke-width="0.7"/>
<circle cx="519.8" cy="104.3" r="2.75" fill="#ffffff" stroke="#000" stroke-width="0.7"/>
<circle cx="502" cy="97" r="2.75" fill="#ffffff" stroke="#000" stroke-width="0.7"/>
<circle cx="491.8" cy="89.7" r="2.75" fill="#ffffff" stroke="#000" stroke-width="0.7"/>
<circle cx="489.7" cy="82.3" r="2.75" fill="#ffffff" stroke="#000" stroke-width="0.7"/>
<circle cx="490.1" cy="75" r="2.75" fill="#ffffff" stroke="#000" stroke-width="0.7"/>
<circle cx="491.8" cy="67.7" r="2.75" fill="#ffffff" stroke="#000" stroke-width="0.7"/>
<circle cx="491.6" cy="60.4" r="2.75" fill="#ffffff" stroke="#000" stroke-width="0.7"/>
<circle cx="485.8" cy="53.1" r="2.75" fill="#ffffff" stroke="#000" stroke-width="0.7"/>
<circle cx="483.3" cy="45.8" r="2.75" fill="#ffffff" stroke="#000" stroke-width="0.7"/>
<circle cx="485.8" cy="38.5" r="2.75" fill="#ffffff" stroke="#000" stroke-width="0.7"/>
<circle cx="493.7" cy="31.2" r="2.75" fill="#ffffff" stroke="#000" stroke-width="0.7"/>
<circle cx="511.2" cy="23.9" r="2.75" fill="#ffffff" stroke="#000" stroke-width="0.7"/>
</svg>
</body></html>
